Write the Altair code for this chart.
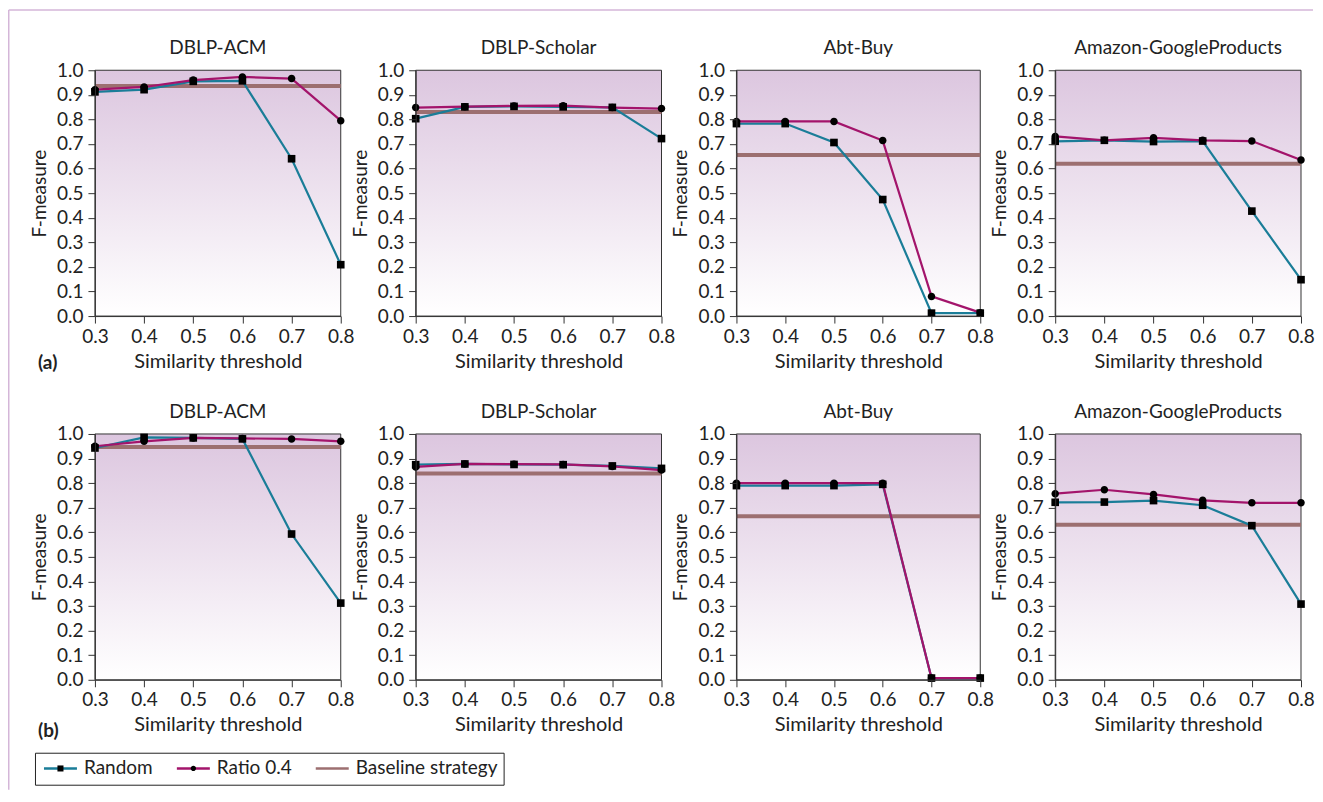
import altair as alt
import pandas as pd

# ---------------- data ----------------
thresholds = [0.3, 0.4, 0.5, 0.6, 0.7, 0.8]
y_ticks = [0.0, 0.1, 0.2, 0.3, 0.4, 0.5, 0.6, 0.7, 0.8, 0.9, 1.0]
datasets = ["DBLP-ACM", "DBLP-Scholar", "Abt-Buy", "Amazon-GoogleProducts"]
series_names = ["Random", "Ratio 0.4", "Baseline strategy"]
row_labels = ["(a)", "(b)"]

# row (a)
random_a = [
    [0.912, 0.921, 0.955, 0.957, 0.640, 0.209],
    [0.803, 0.851, 0.853, 0.851, 0.849, 0.722],
    [0.783, 0.783, 0.706, 0.474, 0.012, 0.012],
    [0.711, 0.715, 0.710, 0.712, 0.427, 0.148],
]
ratio_a = [
    [0.921, 0.932, 0.960, 0.973, 0.966, 0.795],
    [0.848, 0.852, 0.855, 0.856, 0.848, 0.844],
    [0.792, 0.792, 0.792, 0.714, 0.080, 0.014],
    [0.731, 0.715, 0.725, 0.715, 0.712, 0.635],
]
baseline_a = [0.936, 0.830, 0.655, 0.620]

# row (b)
random_b = [
    [0.943, 0.986, 0.984, 0.980, 0.593, 0.312],
    [0.875, 0.878, 0.876, 0.875, 0.870, 0.860],
    [0.790, 0.790, 0.790, 0.795, 0.007, 0.007],
    [0.722, 0.723, 0.729, 0.710, 0.627, 0.308],
]
ratio_b = [
    [0.950, 0.970, 0.984, 0.982, 0.980, 0.970],
    [0.866, 0.878, 0.877, 0.876, 0.868, 0.853],
    [0.800, 0.800, 0.800, 0.800, 0.007, 0.007],
    [0.757, 0.773, 0.754, 0.730, 0.720, 0.720],
]
baseline_b = [0.947, 0.839, 0.665, 0.631]

random_rows = [random_a, random_b]
ratio_rows = [ratio_a, ratio_b]
baseline_rows = [baseline_a, baseline_b]

# ---------------- styles ----------------
FONT = "Lato"
TXT = "#222222"
TEAL = "#1a7d98"
MAGENTA = "#a3146b"
MAUVE = "#9c6f70"
FRAME = "#d4b6d8"
widths = [246, 246, 244, 246]
HEIGHT = 246
TITLE_SIZE = 19
TITLE_Y = -22

color_scale = alt.Scale(domain=series_names, range=[TEAL, MAGENTA, MAUVE])
line_widths = {series_names[0]: 2.2, series_names[1]: 2.2, series_names[2]: 4}
# marker shapes for the data points
SQ = "M-0.56,-0.56H0.56V0.56H-0.56Z"
CI = "M-0.55,0A0.55,0.55,0,1,1,0.55,0A0.55,0.55,0,1,1,-0.55,0Z"
shape_scale = alt.Scale(domain=series_names[:2], range=[SQ, CI])
# legend copies carry invisible move-tos so their bounds equal the legend line's
SQ_L = "M-3,0M3,0M-0.55,-0.55H0.55V0.55H-0.55Z"
CI_L = "M-3,0M3,0M-0.48,0A0.48,0.48,0,1,1,0.48,0A0.48,0.48,0,1,1,-0.48,0Z"
LINE = "M-3,0H3"
legend_shape_scale = alt.Scale(domain=series_names[:2], range=[SQ_L, CI_L])

legend_common = dict(
    orient="none", legendY=319, direction="horizontal", columns=3, title=None,
    symbolSize=121, symbolStrokeWidth=2.5, labelFont=FONT, labelFontSize=19,
    labelColor=TXT, labelOffset=14, columnPadding=19, padding=6, symbolOffset=10,
)
color_legend = alt.Legend(legendX=-60, symbolType=LINE, strokeColor=TXT, **legend_common)
shape_legend = alt.Legend(legendX=-381, labelOpacity=0, symbolFillColor="black",
                          symbolStrokeColor="transparent", **legend_common)

gradient = alt.LinearGradient(
    gradient="linear",
    stops=[alt.GradientStop(color="#dcc6df", offset=0),
           alt.GradientStop(color="#ffffff", offset=1)],
    x1=0, x2=0, y1=0, y2=1,
)


def panel(r, c):
    w = widths[c]
    xs = alt.Scale(domain=[thresholds[0], thresholds[-1]], nice=False, zero=False)
    ys = alt.Scale(domain=[y_ticks[0], y_ticks[-1]], nice=False, zero=False)
    xaxis = alt.Axis(values=thresholds, format=".1f", title="Similarity threshold", zindex=1)
    yaxis = alt.Axis(values=y_ticks, format=".1f", title="F-measure", zindex=1)

    X = lambda f: alt.X(f, scale=xs, axis=xaxis)
    Y = lambda f: alt.Y(f, scale=ys, axis=yaxis)

    bg_df = pd.DataFrame({"x0": [thresholds[0]], "x1": [thresholds[-1]],
                          "y0": [y_ticks[0]], "y1": [y_ticks[-1]]})
    bg = alt.Chart(bg_df).mark_rect(fill=gradient, stroke="#333333", strokeWidth=1).encode(
        x=X("x0:Q"), x2="x1:Q", y=Y("y0:Q"), y2="y1:Q",
    )

    cleg = color_legend if (r == 1 and c == 0) else None

    df_base = pd.DataFrame({"t": [thresholds[0], thresholds[-1]],
                            "f": [baseline_rows[r][c]] * 2, "series": series_names[2]})
    df_rand = pd.DataFrame({"t": thresholds, "f": random_rows[r][c], "series": series_names[0]})
    df_ratio = pd.DataFrame({"t": thresholds, "f": ratio_rows[r][c], "series": series_names[1]})

    def enc_line(df):
        return alt.Chart(df).mark_line(strokeWidth=line_widths[df["series"].iloc[0]]).encode(
            x=X("t:Q"), y=Y("f:Q"),
            color=alt.Color("series:N", scale=color_scale, legend=cleg),
        )

    base_line = enc_line(df_base)
    rand_line = enc_line(df_rand)
    ratio_line = enc_line(df_ratio)

    pts_df = pd.concat([df_rand, df_ratio], ignore_index=True).rename(columns={"series": "marker"})
    pts = alt.Chart(pts_df).mark_point(filled=True, color="black", opacity=1, size=186).encode(
        x=X("t:Q"), y=Y("f:Q"),
        shape=alt.Shape("marker:N", scale=shape_scale, legend=None),
    )

    layers = [bg, base_line, rand_line, ratio_line, pts]

    if r == 1 and c == 1:
        # tiny copy of the markers that only carries the marker legend
        leg_pts = alt.Chart(pts_df).mark_point(filled=True, color="black", opacity=1, size=0.5).encode(
            x=X("t:Q"), y=Y("f:Q"),
            shape=alt.Shape("marker:N", scale=legend_shape_scale, legend=shape_legend),
        )
        layers.append(leg_pts)

    if c == 0:
        lab_df = pd.DataFrame({"label": [row_labels[r]]})
        lab = alt.Chart(lab_df).mark_text(
            align="left", baseline="middle", font=FONT, fontSize=19,
            fontWeight="bold", color=TXT,
        ).encode(text="label:N", x=alt.value(-57), y=alt.value(293 if r == 0 else 297))
        layers.append(lab)

    props = dict(width=w, height=HEIGHT)
    if r == 0 and c == 0:
        # panel title drawn as text (the frame rules would push a real title upward)
        t_df = pd.DataFrame({"label": [datasets[c]]})
        ttl = alt.Chart(t_df).mark_text(
            align="center", baseline="middle", font=FONT, fontSize=TITLE_SIZE, color=TXT,
        ).encode(text="label:N", x=alt.value(w / 2), y=alt.value(TITLE_Y))
        fr = pd.DataFrame({"k": [0]})
        top = alt.Chart(fr).mark_rule(color=FRAME, strokeWidth=1.5).encode(
            x=alt.value(-86.25), x2=alt.value(1219), y=alt.value(-60.25))
        left = alt.Chart(fr).mark_rule(color=FRAME, strokeWidth=1.5).encode(
            x=alt.value(-86.25), y=alt.value(-60.25), y2=alt.value(720))
        layers += [ttl, top, left]
    else:
        props["title"] = alt.TitleParams(text=datasets[c], anchor="middle", frame="group")

    return alt.layer(*layers).resolve_scale(shape="independent").properties(**props)


panels = [panel(r, c) for r in range(2) for c in range(4)]

chart = alt.concat(
    *panels, columns=4, spacing={"row": 118, "column": 75}, bounds="flush", align="each"
).resolve_scale(
    color="independent", shape="independent", x="independent", y="independent"
).properties(
    padding={"left": 0, "top": 1, "right": 0, "bottom": 0},
    background="white",
).configure_view(
    stroke=None
).configure_axis(
    labelFont=FONT, labelFontSize=19, labelColor=TXT,
    titleFont=FONT, titleFontSize=20, titleFontWeight="normal", titleColor=TXT,
    domainColor="#333333", tickColor="#333333", tickSize=7, labelPadding=4,
    titlePadding=5, grid=False, labelFlush=False, labelOverlap=False,
).configure_axisY(
    labelPadding=5, titlePadding=7, titleFontSize=19,
).configure_title(
    font=FONT, fontSize=TITLE_SIZE, fontWeight="normal", color=TXT, offset=3,
)

chart.save("out.html", embed_options={"renderer": "svg", "actions": False})
